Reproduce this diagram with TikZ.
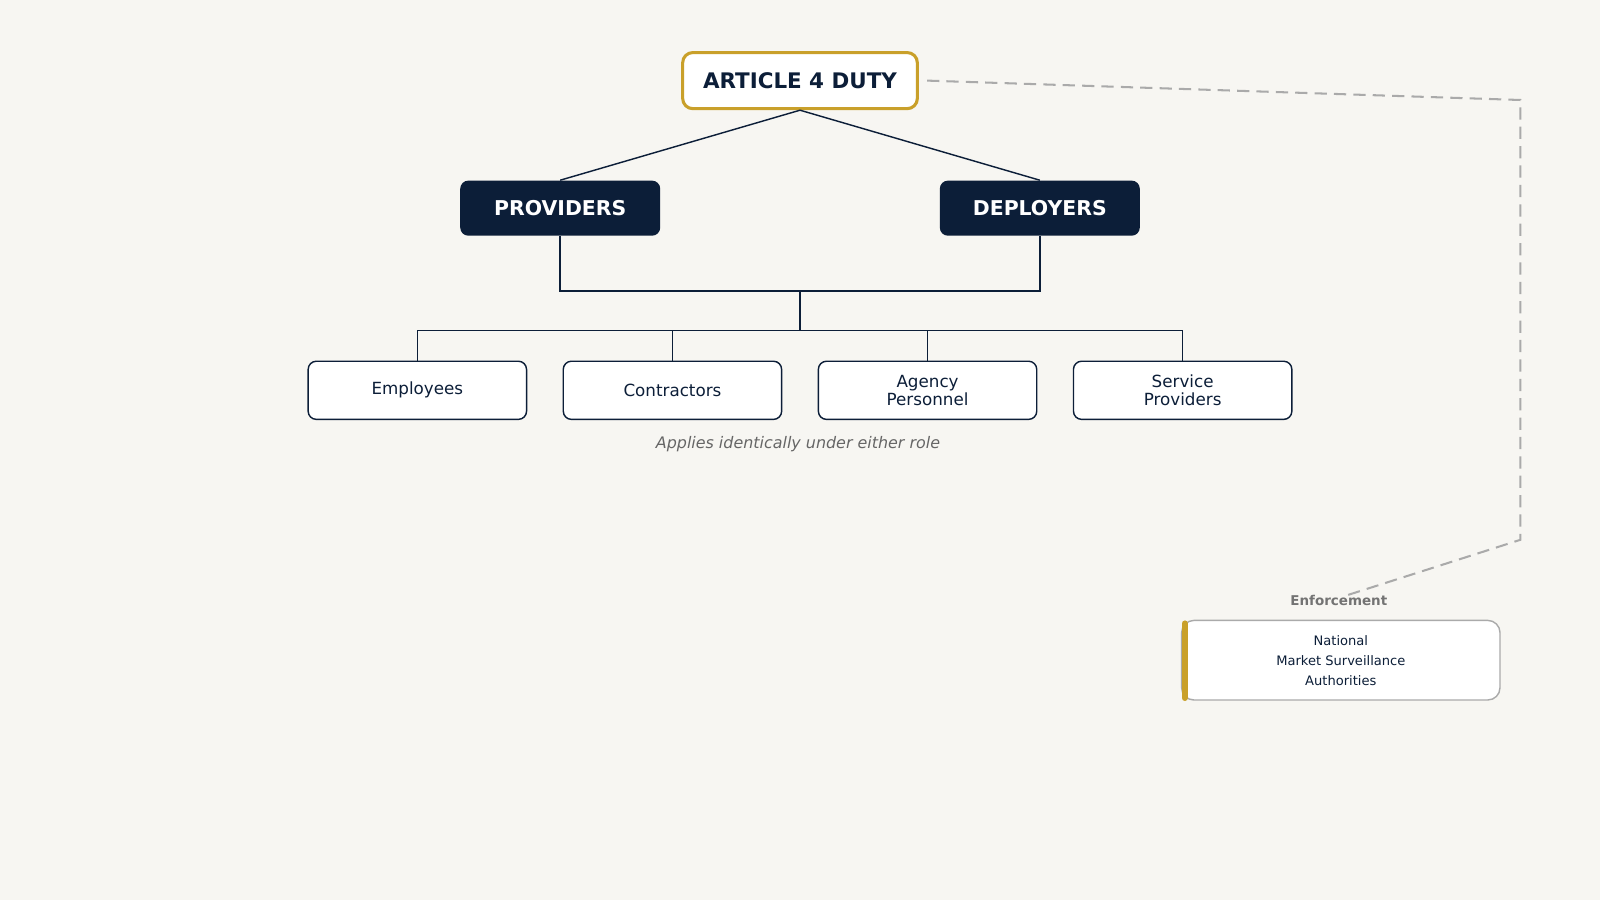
\documentclass[tikz,border=0pt]{standalone}
\usepackage{fontspec}
\setmainfont{DejaVu Sans}
\begin{document}
\definecolor{bg}{HTML}{F7F6F2}
\definecolor{navy}{HTML}{0C1E38}
\definecolor{gold}{HTML}{C9A02A}
\definecolor{dgray}{HTML}{AAAAAA}
\begin{tikzpicture}[x=0.5pt,y=-0.5pt,
  conn/.style={draw=navy,line width=0.7pt},
  role/.style={fill=navy,rounded corners=4pt,minimum width=98pt,minimum height=27pt,text=white,font=\fontsize{10}{12}\selectfont\bfseries},
  leaf/.style={draw=navy,fill=white,line width=0.7pt,rounded corners=4pt,minimum width=107pt,minimum height=28.5pt,text=navy,font=\fontsize{8.2}{8.8}\selectfont,align=center}]
\fill[bg] (0,0) rectangle (1568,882);
\useasboundingbox (0,0) rectangle (1568,882);
\node[draw=gold,line width=1.5pt,fill=white,rounded corners=5pt,minimum width=115pt,minimum height=27.5pt,text=navy,font=\fontsize{10.5}{12}\selectfont\bfseries] (art) at (784,79) {ARTICLE 4 DUTY};
\node[role] (prov) at (549,204) {PROVIDERS};
\node[role] (dep) at (1019,204) {DEPLOYERS};
\draw[conn] (art.south) -- (prov.north);
\draw[conn] (art.south) -- (dep.north);
\coordinate (j) at (784,285);
\coordinate (k) at (784,324);
\draw[conn] (prov.south) |- (j) -| (dep.south);
\draw[conn] (j) -- (k);
\node[leaf] (e) at (409,382.5) {Employees};
\node[leaf] (c) at (659,382.5) {Contractors};
\node[leaf] (a) at (909,382.5) {Agency\\Personnel};
\node[leaf] (s) at (1159,382.5) {Service\\Providers};
\foreach \n in {e,c,a,s} \draw[conn] (k) -| (\n.north);
\node[text=black!60,font=\fontsize{7.8}{9}\selectfont\itshape] (cap) at (782,435) {Applies identically under either role};
\node[draw=dgray,line width=0.7pt,fill=white,rounded corners=6pt,minimum width=156pt,minimum height=39pt,text=navy,font=\fontsize{6.4}{9.8}\selectfont,align=center] (nm) at (1314,647) {National\\Market Surveillance\\Authorities};
\draw[gold,line width=3pt,line cap=round] (1161,611) -- (1161,684);
\node[text=black!55,font=\fontsize{6.6}{8}\selectfont\bfseries] (enf) at (1312,588) {Enforcement};
\coordinate (d1) at (1490,98);
\coordinate (d2) at (1490,529);
\coordinate (d3) at (1318,584);
\draw[dgray,line width=1pt,dash pattern=on 6pt off 3.5pt] (art.east)++(8,0) -- (d1) -- (d2) -- (d3);
\end{tikzpicture}
\end{document}
